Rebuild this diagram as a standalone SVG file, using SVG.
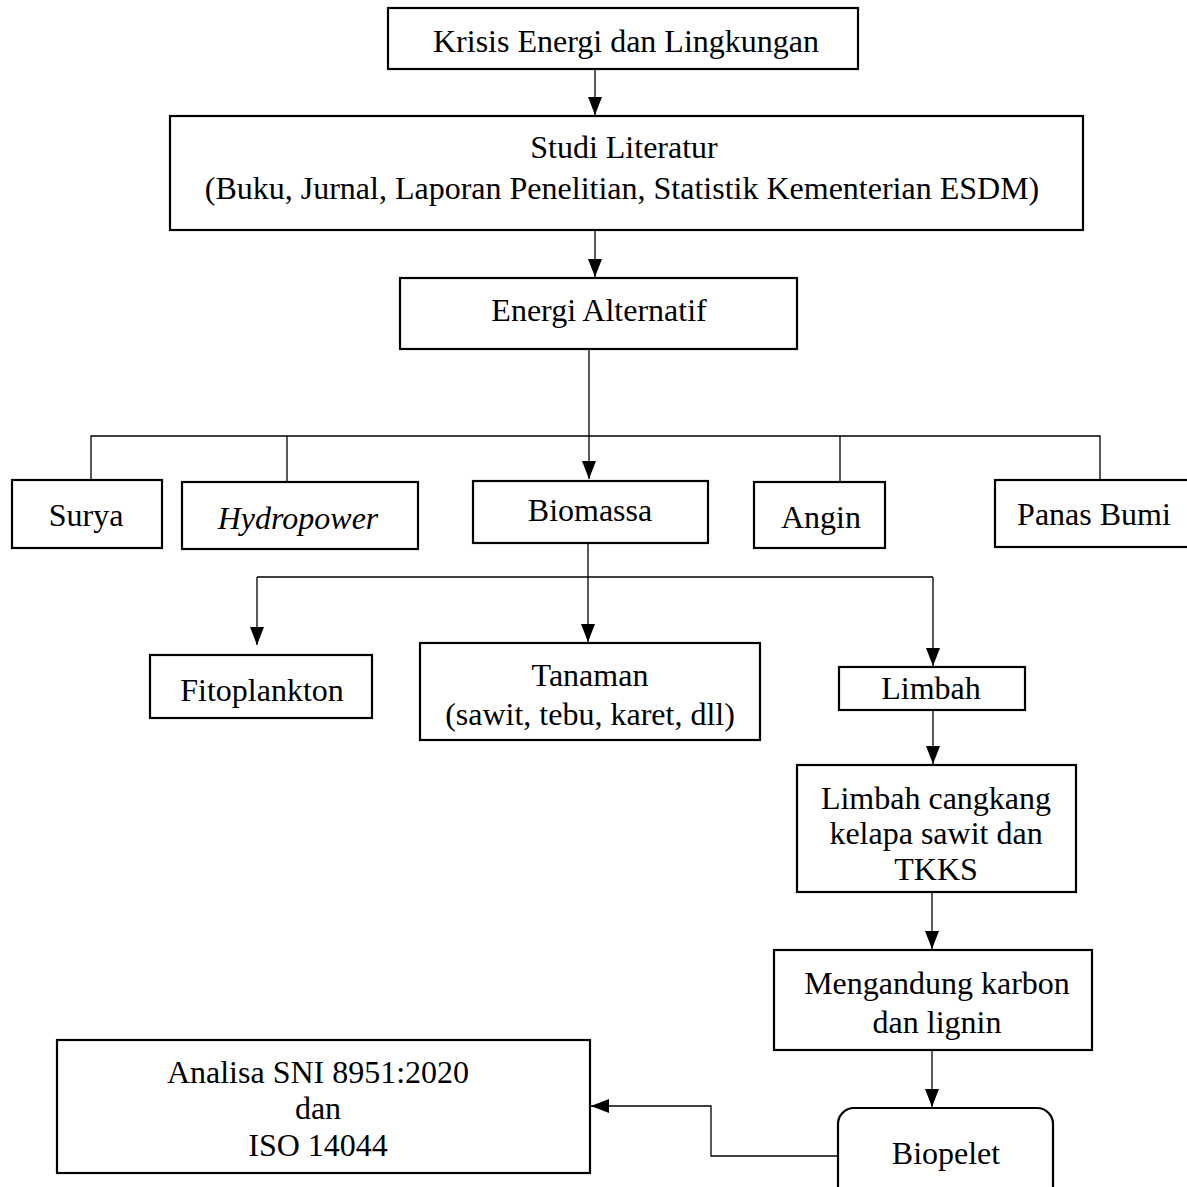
<svg xmlns="http://www.w3.org/2000/svg" width="1187" height="1187" viewBox="0 0 1187 1187">
<defs>
<style>
.box{fill:#fff;stroke:#000;stroke-width:2.2}
.t{font-family:"Liberation Serif","Times New Roman",serif;font-size:32px;fill:#000;text-anchor:middle}
.c{fill:none;stroke:#000;stroke-width:1.3}
</style>
<marker id="ah" viewBox="0 0 18 14" refX="18" refY="7" markerWidth="18" markerHeight="14" markerUnits="userSpaceOnUse" orient="auto"><path d="M0,0 L18,7 L0,14 Z" fill="#000"/></marker>
</defs>
<rect width="1187" height="1187" fill="#fff"/>
<g id="connectors">
<line class="c" x1="595" y1="70" x2="595" y2="115" marker-end="url(#ah)"/>
<line class="c" x1="595" y1="231" x2="595" y2="277" marker-end="url(#ah)"/>
<line class="c" x1="589" y1="350" x2="589" y2="479" marker-end="url(#ah)"/>
<polyline class="c" points="91,480 91,436 1100,436 1100,480"/>
<line class="c" x1="287" y1="436" x2="287" y2="482"/>
<line class="c" x1="840" y1="436" x2="840" y2="482"/>
<line class="c" x1="588" y1="544" x2="588" y2="642" marker-end="url(#ah)"/>
<line class="c" x1="257" y1="577" x2="933" y2="577"/>
<line class="c" x1="257" y1="577" x2="257" y2="645" marker-end="url(#ah)"/>
<line class="c" x1="933" y1="577" x2="933" y2="666" marker-end="url(#ah)"/>
<line class="c" x1="933" y1="711" x2="933" y2="764" marker-end="url(#ah)"/>
<line class="c" x1="932" y1="893" x2="932" y2="949" marker-end="url(#ah)"/>
<line class="c" x1="932" y1="1051" x2="932" y2="1107" marker-end="url(#ah)"/>
<polyline class="c" points="838,1156 711,1156 711,1106 591,1106" marker-end="url(#ah)"/>
</g>
<g id="n-krisis"><rect class="box" x="388" y="8" width="470" height="61"/><text class="t" x="626" y="52">Krisis Energi dan Lingkungan</text></g>
<g id="n-studi"><rect class="box" x="170" y="116" width="913" height="114"/><text class="t" x="624" y="158">Studi Literatur</text><text class="t" x="622" y="199">(Buku, Jurnal, Laporan Penelitian, Statistik Kementerian ESDM)</text></g>
<g id="n-energi"><rect class="box" x="400" y="278" width="397" height="71"/><text class="t" x="599" y="321">Energi Alternatif</text></g>
<g id="n-surya"><rect class="box" x="12" y="480" width="150" height="68"/><text class="t" x="86" y="526">Surya</text></g>
<g id="n-hydro"><rect class="box" x="182" y="482" width="236" height="67"/><text class="t" x="298" y="529" font-style="italic">Hydropower</text></g>
<g id="n-biomassa"><rect class="box" x="473" y="481" width="235" height="62"/><text class="t" x="590" y="521" font-size="27">Biomassa</text></g>
<g id="n-angin"><rect class="box" x="754" y="482" width="131" height="66"/><text class="t" x="821" y="528">Angin</text></g>
<g id="n-panas"><rect class="box" x="995" y="480" width="200" height="67"/><text class="t" x="1094" y="525">Panas Bumi</text></g>
<g id="n-fito"><rect class="box" x="150" y="655" width="222" height="63"/><text class="t" x="262" y="701">Fitoplankton</text></g>
<g id="n-tanaman"><rect class="box" x="420" y="643" width="340" height="97"/><text class="t" x="590" y="686">Tanaman</text><text class="t" x="590" y="725">(sawit, tebu, karet, dll)</text></g>
<g id="n-limbah"><rect class="box" x="839" y="667" width="186" height="43"/><text class="t" x="931" y="699">Limbah</text></g>
<g id="n-cangkang"><rect class="box" x="797" y="765" width="279" height="127"/><text class="t" x="936" y="809">Limbah cangkang</text><text class="t" x="936" y="844">kelapa sawit dan</text><text class="t" x="936" y="880">TKKS</text></g>
<g id="n-mengandung"><rect class="box" x="774" y="950" width="318" height="100"/><text class="t" x="937" y="994">Mengandung karbon</text><text class="t" x="937" y="1033">dan lignin</text></g>
<g id="n-biopelet"><rect class="box" x="838" y="1108" width="215" height="100" rx="16"/><text class="t" x="946" y="1164">Biopelet</text></g>
<g id="n-analisa"><rect class="box" x="57" y="1040" width="533" height="133"/><text class="t" x="318" y="1083">Analisa SNI 8951:2020</text><text class="t" x="318" y="1119">dan</text><text class="t" x="318" y="1156">ISO 14044</text></g>
</svg>
